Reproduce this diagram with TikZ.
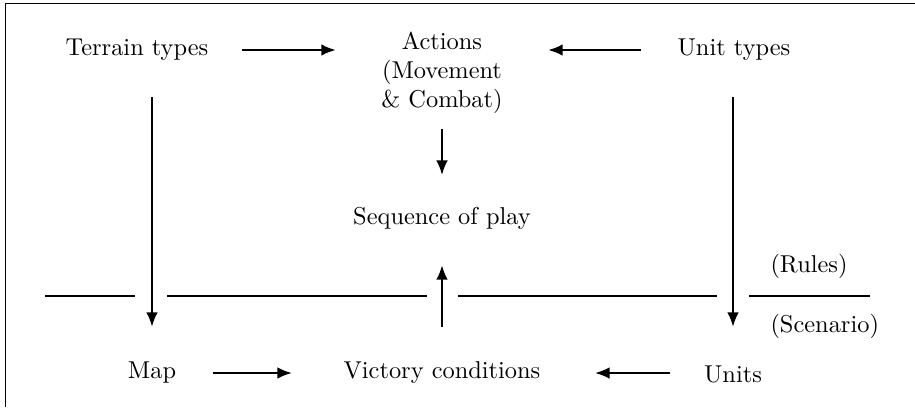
\documentclass[tikz,border=0pt]{standalone}
\usetikzlibrary{arrows.meta}
\begin{document}
\begin{tikzpicture}[x=0.41pt,y=-0.41pt,
  lbl/.style={inner sep=0pt,font=\normalsize},
  conn/.style={line width=0.95pt,-{Latex[length=6pt,width=4.8pt]}},
  divider/.style={line width=0.5pt},
  frame/.style={line width=0.8pt}]
\useasboundingbox (0,0) rectangle (915,407);
\draw[frame] (5.5,407) -- (5.5,3.5) -- (915,3.5);
\node[lbl] (t) at (137,50) {Terrain types};
\node[lbl,align=center] (a) at (442,73) {Actions\\(Movement\\\& Combat)};
\node[lbl] (u) at (734,50) {Unit types};
\node[lbl] (s) at (442,218) {Sequence of play};
\node[lbl] (m) at (152,373) {Map};
\node[lbl] (v) at (442,373) {Victory conditions};
\node[lbl] (n) at (733,374) {Units};
\node[lbl,anchor=west] (r) at (770,266) {(Rules)};
\node[lbl,anchor=west] (c) at (770,326) {(Scenario)};
% connectors (shortened from node centres)
\draw[conn,shorten <=43pt,shorten >=43.5pt] (t.center) -- (t.center -| a.center);
\draw[conn,shorten <=38pt,shorten >=43.5pt] (u.center) -- (u.center -| a.center);
\draw[conn,shorten <=23pt,shorten >=17.6pt] (a.center) -- (s.center);
\draw[conn,shorten <=18.9pt,shorten >=19.3pt] (v.center) -- (s.center);
\draw[conn,shorten <=19.3pt,shorten >=18.9pt] (m.center |- t.center) -- (m.center);
\draw[conn,shorten <=19.3pt,shorten >=19.3pt] (n.center |- u.center) -- (n.center);
\draw[conn,shorten <=25pt,shorten >=61.5pt] (m.center) -- (v.center);
\draw[conn,shorten <=25.8pt,shorten >=62.7pt] (v.center -| n.center) -- (v.center);
% rules / scenario divider
\draw[divider] (45,296) -- (135,296) (167,296) -- (427,296)
  (458,296) -- (717,296) (749,296) -- (870,296);
\end{tikzpicture}
\end{document}
